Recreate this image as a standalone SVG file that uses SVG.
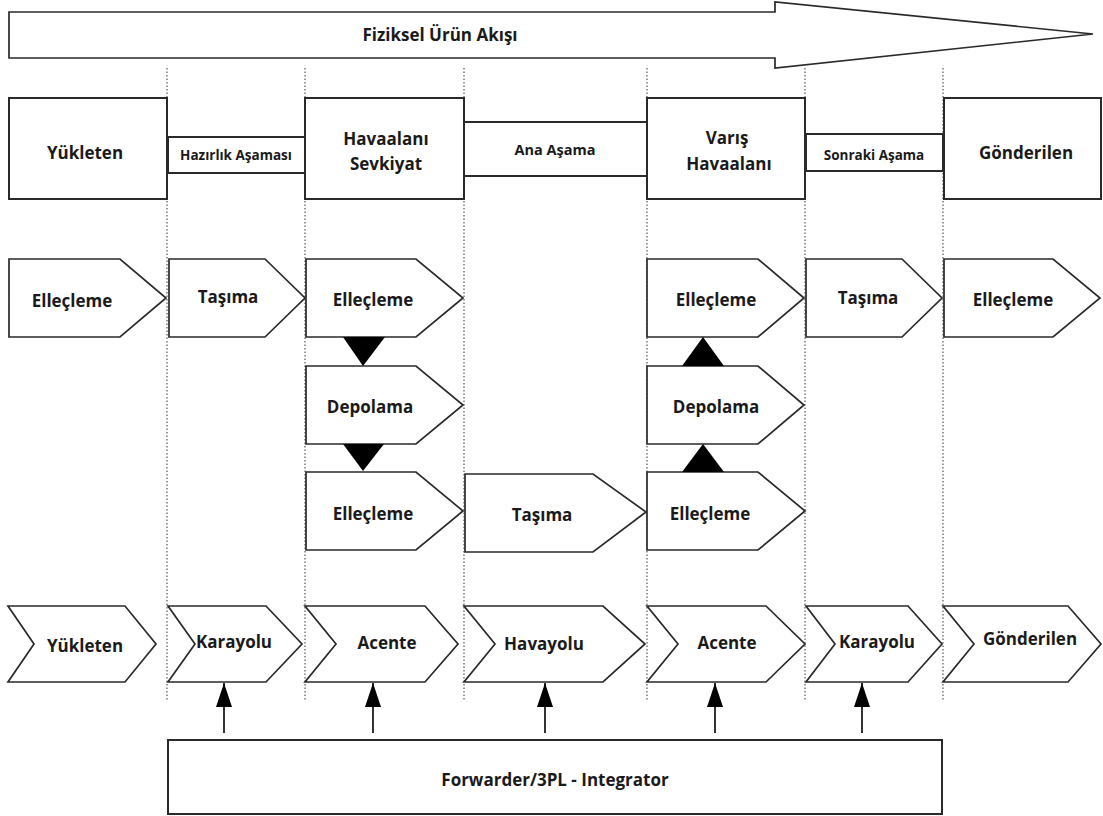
<svg xmlns="http://www.w3.org/2000/svg" width="1103" height="816" viewBox="0 0 1103 816">
  <style>
    .shape { fill: #ffffff; stroke: #2a2a2a; stroke-width: 1.7; stroke-linejoin: miter; }
    .box { fill: #ffffff; stroke: #2a2a2a; stroke-width: 2; }
    .lane { stroke: #666666; stroke-width: 1.3; stroke-dasharray: 1.5 2; fill: none; }
    .tri { fill: #000000; stroke: none; }
    .link { stroke: #000000; stroke-width: 1.6; fill: none; }
    text { font-family: "Open Sans", "Liberation Sans", sans-serif; font-weight: 700; fill: #1a1a1a; text-anchor: middle; dominant-baseline: central; }
    .t17 { font-size: 17px; }
    .t14 { font-size: 13.5px; }
    .t15 { font-size: 14.5px; }
  </style>
  <defs>
    <!-- solid head, tip on the +x axis so it follows the line direction -->
    <marker id="head" viewBox="0 0 24 16" refX="24" refY="8" markerWidth="24" markerHeight="16" markerUnits="userSpaceOnUse" orient="auto">
      <path d="M24 8 L0 0 L0 16 Z" fill="#000000"/>
    </marker>
  </defs>

  <rect width="1103" height="816" fill="#ffffff"/>

  <!-- stage separators -->
  <g id="lanes">
    <line class="lane" x1="167" y1="68" x2="167" y2="700"/>
    <line class="lane" x1="305" y1="68" x2="305" y2="700"/>
    <line class="lane" x1="464" y1="68" x2="464" y2="700"/>
    <line class="lane" x1="647" y1="68" x2="647" y2="700"/>
    <line class="lane" x1="805" y1="68" x2="805" y2="700"/>
    <line class="lane" x1="943" y1="68" x2="943" y2="700"/>
  </g>

  <!-- product flow arrow -->
  <g id="flow">
    <path class="shape" d="M9 12 H775 V2 L1093 34 L775 68 V58 H9 Z"/>
    <text class="t17" x="440" y="34">Fiziksel Ürün Akışı</text>
  </g>

  <!-- stage headers -->
  <g id="h-yukleten">
    <rect class="box" x="9" y="98" width="158" height="101"/>
    <text class="t17" x="85" y="152">Yükleten</text>
  </g>
  <g id="h-hazirlik">
    <rect class="box" x="168" y="137" width="137" height="36"/>
    <text class="t14" x="236" y="155">Hazırlık Aşaması</text>
  </g>
  <g id="h-sevkiyat">
    <rect class="box" x="305" y="98" width="159" height="101"/>
    <text class="t17" x="386" y="138">Havaalanı</text>
    <text class="t17" x="386" y="163">Sevkiyat</text>
  </g>
  <g id="h-ana">
    <rect class="box" x="464" y="122" width="183" height="54"/>
    <text class="t15" x="555" y="149">Ana Aşama</text>
  </g>
  <g id="h-varis">
    <rect class="box" x="647" y="98" width="158" height="101"/>
    <text class="t17" x="727" y="137">Varış</text>
    <text class="t17" x="729" y="163">Havaalanı</text>
  </g>
  <g id="h-sonraki">
    <rect class="box" x="806" y="134" width="137" height="37"/>
    <text class="t14" x="874" y="155">Sonraki Aşama</text>
  </g>
  <g id="h-gonderilen">
    <rect class="box" x="944" y="98" width="157" height="101"/>
    <text class="t17" x="1026" y="152">Gönderilen</text>
  </g>

  <!-- process steps -->
  <g id="p1-ellecleme">
    <path class="shape" d="M9 259 H120 L166 298 L120 337 H9 Z"/>
    <text class="t17" x="72" y="300">Elleçleme</text>
  </g>
  <g id="p2-tasima">
    <path class="shape" d="M169 259 H265 L305 298 L265 337 H169 Z"/>
    <text class="t17" x="228" y="296">Taşıma</text>
  </g>
  <g id="p3-ellecleme">
    <path class="shape" d="M306 259 H416 L463 298 L416 337 H306 Z"/>
    <text class="t17" x="373" y="299">Elleçleme</text>
  </g>
  <g id="p3-depolama">
    <path class="shape" d="M306 366 H416 L463 405 L416 444 H306 Z"/>
    <text class="t17" x="370" y="406">Depolama</text>
  </g>
  <g id="p3-ellecleme2">
    <path class="shape" d="M306 472 H416 L463 511 L416 550 H306 Z"/>
    <text class="t17" x="373" y="513">Elleçleme</text>
  </g>
  <g id="p4-tasima">
    <path class="shape" d="M465 474 H593 L646 512 L593 552 H465 Z"/>
    <text class="t17" x="542" y="514">Taşıma</text>
  </g>
  <g id="p5-ellecleme">
    <path class="shape" d="M647 259 H758 L804 298 L758 337 H647 Z"/>
    <text class="t17" x="716" y="299">Elleçleme</text>
  </g>
  <g id="p5-depolama">
    <path class="shape" d="M647 366 H758 L804 405 L758 444 H647 Z"/>
    <text class="t17" x="716" y="406">Depolama</text>
  </g>
  <g id="p5-ellecleme2">
    <path class="shape" d="M647 472 H758 L805 511 L758 550 H647 Z"/>
    <text class="t17" x="710" y="513">Elleçleme</text>
  </g>
  <g id="p6-tasima">
    <path class="shape" d="M806 259 H902 L942 298 L902 337 H806 Z"/>
    <text class="t17" x="868" y="297">Taşıma</text>
  </g>
  <g id="p7-ellecleme">
    <path class="shape" d="M944 259 H1053 L1100 298 L1053 337 H944 Z"/>
    <text class="t17" x="1013" y="299">Elleçleme</text>
  </g>

  <!-- actors -->
  <g id="a-yukleten">
    <path class="shape" d="M8 606 H125 L156 644 L125 682 H8 L34 644 Z"/>
    <text class="t17" x="85" y="645">Yükleten</text>
  </g>
  <g id="a-karayolu">
    <path class="shape" d="M168 606 H266 L302 644 L266 682 H168 L195 644 Z"/>
    <text class="t17" x="234" y="641">Karayolu</text>
  </g>
  <g id="a-acente">
    <path class="shape" d="M305 606 H425 L458 644 L425 682 H305 L336 644 Z"/>
    <text class="t17" x="387" y="642">Acente</text>
  </g>
  <g id="a-havayolu">
    <path class="shape" d="M464 606 H603 L645 644 L603 682 H464 L495 644 Z"/>
    <text class="t17" x="544" y="643">Havayolu</text>
  </g>
  <g id="a-acente2">
    <path class="shape" d="M647 606 H766 L805 644 L766 682 H647 L678 644 Z"/>
    <text class="t17" x="727" y="642">Acente</text>
  </g>
  <g id="a-karayolu2">
    <path class="shape" d="M806 606 H908 L942 644 L908 682 H806 L835 644 Z"/>
    <text class="t17" x="877" y="641">Karayolu</text>
  </g>
  <g id="a-gonderilen">
    <path class="shape" d="M943 606 H1068 L1101 644 L1068 682 H943 L974 644 Z"/>
    <text class="t17" x="1030" y="638">Gönderilen</text>
  </g>

  <!-- integrator -->
  <g id="integrator">
    <rect class="box" x="168" y="740" width="774" height="74"/>
    <text class="t17" x="555" y="779">Forwarder/3PL - Integrator</text>
  </g>

  <!-- connectors -->
  <g id="connectors">
    <polygon class="tri" points="343,337 385,337 363,366"/>
    <polygon class="tri" points="343,444 384,444 363,471"/>
    <polygon class="tri" points="682,366 724,366 703,337"/>
    <polygon class="tri" points="682,472 724,472 703,444"/>
    <line class="link" x1="224" y1="733" x2="224" y2="683" marker-end="url(#head)"/>
    <line class="link" x1="373" y1="733" x2="373" y2="683" marker-end="url(#head)"/>
    <line class="link" x1="545" y1="733" x2="545" y2="683" marker-end="url(#head)"/>
    <line class="link" x1="715" y1="733" x2="715" y2="683" marker-end="url(#head)"/>
    <line class="link" x1="862" y1="733" x2="862" y2="683" marker-end="url(#head)"/>
  </g>
</svg>
